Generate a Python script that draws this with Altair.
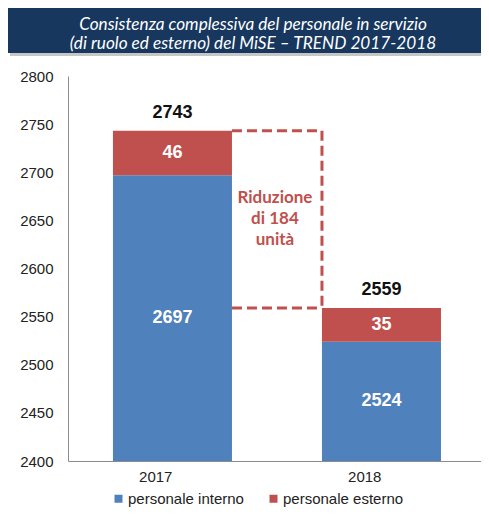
import altair as alt
import pandas as pd

# ---- data ----
years = ["2017", "2018"]
interno = [2697, 2524]
esterno = [46, 35]
series = ["personale interno", "personale esterno"]
colors = ["#4F81BD", "#C0504D"]
y_ticks = [2400, 2450, 2500, 2550, 2600, 2650, 2700, 2750, 2800]
title_lines = [
    "Consistenza complessiva del personale in servizio",
    "(di ruolo ed esterno) del MiSE \u2013 TREND 2017-2018",
]
note_lines = ["Riduzione", "di 184", "unit\u00e0"]

y_min, y_max = y_ticks[0], y_ticks[-1]
totals = [a + b for a, b in zip(interno, esterno)]

rows = []
for i, yr in enumerate(years):
    rows.append(dict(year=yr, serie=series[0], value=interno[i], ord=0,
                     label_y=(y_min + interno[i]) / 2))
    rows.append(dict(year=yr, serie=series[1], value=esterno[i], ord=1,
                     label_y=interno[i] + esterno[i] / 2))
df = pd.DataFrame(rows)
df_tot = pd.DataFrame({"year": years, "total": totals})
df_gap = pd.DataFrame({
    "from": [years[0]], "to": [years[1]],
    "top": [totals[0]], "bottom": [totals[1]],
    "mid": [(totals[0] + totals[1]) / 2],
    "note": ["\n".join(note_lines)],
})

RED = "#C0504D"
FONT = "Liberation Sans"

xscale = alt.Scale(domain=years, paddingInner=90 / 209, paddingOuter=0.2033, align=0.529)
yscale = alt.Scale(domain=[y_min, y_max], nice=False, zero=False)

bars = alt.Chart(df).mark_bar(clip=True).encode(
    x=alt.X("year:N", scale=xscale, title=None,
            axis=alt.Axis(labelAngle=0)),
    y=alt.Y("value:Q", stack="zero", scale=yscale, title=None,
            axis=alt.Axis(values=y_ticks, format="d")),
    color=alt.Color("serie:N", scale=alt.Scale(domain=series, range=colors),
                    legend=alt.Legend(orient="none", legendX=43, legendY=415,
                                      direction="horizontal", title=None,
                                      symbolType="square", symbolSize=64,
                                      symbolStrokeWidth=0, symbolOpacity=1,
                                      labelFontSize=15, labelFont=FONT,
                                      labelColor="#222", labelOffset=2,
                                      columnPadding=22, padding=0)),
    order=alt.Order("ord:Q"),
)

seg_labels = alt.Chart(df).mark_text(
    font=FONT, fontSize=18, fontWeight="bold", color="white", baseline="middle"
).encode(
    x=alt.X("year:N", scale=xscale, title=None),
    y=alt.Y("label_y:Q", scale=yscale, title=None),
    text=alt.Text("value:Q"),
)

tot_labels = alt.Chart(df_tot).mark_text(
    font=FONT, fontSize=18, fontWeight="bold", color="#111", baseline="middle", dy=-18
).encode(
    x=alt.X("year:N", scale=xscale, title=None),
    y=alt.Y("total:Q", scale=yscale, title=None),
    text=alt.Text("total:Q"),
)

dash = dict(color=RED, strokeWidth=3, strokeDash=[10, 5])
top_rule = alt.Chart(df_gap).mark_rule(**dash).encode(
    x=alt.X("from:N", scale=xscale, bandPosition=1, title=None),
    x2=alt.X2("to:N", bandPosition=0),
    y=alt.Y("top:Q", scale=yscale, title=None),
)
bot_rule = alt.Chart(df_gap).mark_rule(**dash).encode(
    x=alt.X("from:N", scale=xscale, bandPosition=1, title=None),
    x2=alt.X2("to:N", bandPosition=0),
    y=alt.Y("bottom:Q", scale=yscale, title=None),
)
side_rule = alt.Chart(df_gap).mark_rule(**dash).encode(
    x=alt.X("to:N", scale=xscale, bandPosition=0, title=None),
    y=alt.Y("top:Q", scale=yscale, title=None),
    y2=alt.Y2("bottom:Q"),
)
note = alt.Chart(df_gap).mark_text(
    font="Lato", fontSize=17, fontWeight="bold", color=RED,
    baseline="middle", align="center", lineBreak="\n", lineHeight=21,
    dx=43, dy=-21
).encode(
    x=alt.X("from:N", scale=xscale, bandPosition=1, title=None),
    y=alt.Y("mid:Q", scale=yscale, title=None),
    text="note:N",
)

df_t1 = pd.DataFrame({"t": [title_lines[0]]})
df_t2 = pd.DataFrame({"t": [title_lines[1]]})
shadow = alt.Chart(df_t1).mark_rect(color="#a0a0a0", opacity=0.6).encode(
    x=alt.value(-58), x2=alt.value(413), y=alt.value(-66), y2=alt.value(-20)
)
box = alt.Chart(df_t1).mark_rect(color="#17375E").encode(
    x=alt.value(-60), x2=alt.value(413), y=alt.value(-68), y2=alt.value(-23)
)
tstyle = dict(font="Lato", fontSize=17.2, fontStyle="italic", color="white",
              align="center", baseline="middle")
title1 = alt.Chart(df_t1).mark_text(**tstyle).encode(
    x=alt.value(185), y=alt.value(-51), text="t:N"
)
title2 = alt.Chart(df_t2).mark_text(**tstyle).encode(
    x=alt.value(185), y=alt.value(-32), text="t:N"
)

chart = alt.layer(
    shadow, box, title1, title2, top_rule, bot_rule, side_rule,
    bars, seg_labels, tot_labels, note
).properties(
    width=413, height=385,
    autosize=alt.AutoSizeParams(type="none"),
    padding={"left": 60, "top": 68, "right": 0, "bottom": 47},
).configure_view(stroke=None).configure_axis(
    grid=False, ticks=False, domainColor="#8c8c8c", domainWidth=1,
    labelFont=FONT, labelFontSize=15, labelColor="#222",
).configure_axisY(labelPadding=15).configure_axisX(labelPadding=15)

chart.save("out.html", embed_options={"renderer": "svg", "actions": False})
